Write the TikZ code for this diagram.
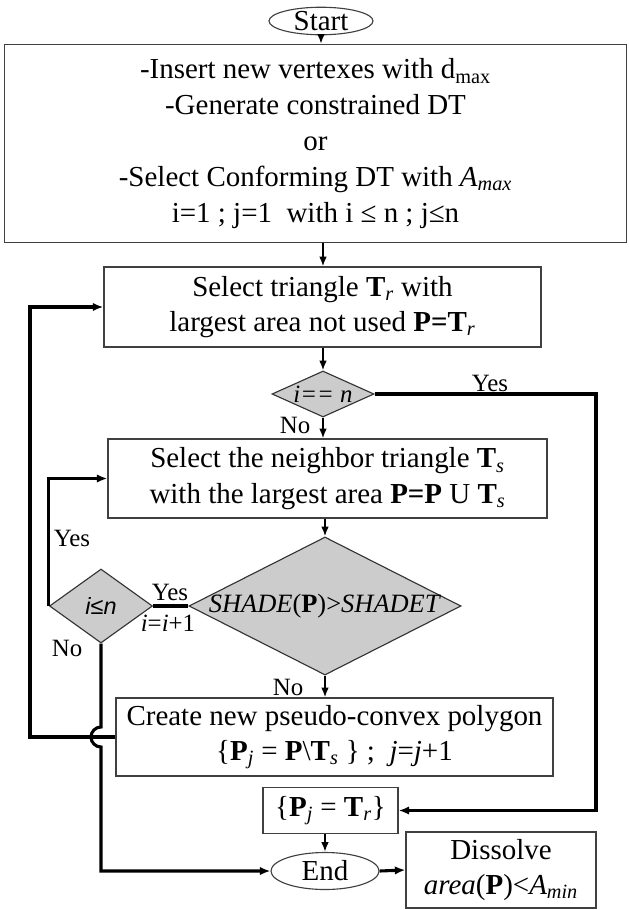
\documentclass[tikz,border=0pt]{standalone}
\usepackage{fontspec}
\setmainfont{Liberation Serif}
\newfontfamily\sansfam{Liberation Sans}
\usetikzlibrary{shapes.geometric,arrows.meta}

\begin{document}
\begin{tikzpicture}[x=0.025cm,y=-0.025cm,
  box/.style={draw=black!75,line width=0.8pt,rectangle,align=center,inner sep=0pt,
    font=\fontsize{20.6}{25}\selectfont},
  term/.style={draw=black!75,line width=0.8pt,ellipse,inner sep=0pt,
    font=\fontsize{20.6}{25}\selectfont},
  test/.style={draw=black!80,line width=0.8pt,diamond,fill=gray!40,inner sep=0pt},
  lbl/.style={inner sep=0pt,font=\fontsize{17.7}{21}\selectfont},
  flow/.style={line width=1.4pt,-{Latex[length=7pt,width=5.5pt]}},
  loop/.style={line width=2.2pt,-{Latex[length=7.5pt,width=6pt]}},
  bar/.style={line width=2.2pt}]

\useasboundingbox (0,0) rectangle (629,910);

% Start and set up
\node[term,minimum width=2.6cm,minimum height=0.675cm] (start) at (321,21) {Start};
\node[box,minimum width=15.55cm,minimum height=4.95cm,font=\fontsize{20.6}{25.5}\selectfont] (init) at (315.5,143.5)
  {-Insert new vertexes with d\textsubscript{max}\\
   -Generate constrained DT\\
   or\\
   -Select Conforming DT with \textit{A\textsubscript{max}}\\
   i=1 ; j=1~~with i ≤ n ; j≤n};

% Main loop
\node[box,minimum width=10.925cm,minimum height=2cm] (selr) at (322.5,307)
  {Select triangle \textbf{T}\textsubscript{\textit{r}} with\\
   largest area not used \textbf{P=T}\textsubscript{\textit{r}}};
\node[test,minimum width=2.55cm,minimum height=1.15cm,font=\fontsize{17.7}{21}\selectfont] (last) at (323,394)
  {\makebox[0pt]{\textit{i== n}}};
\node[box,minimum width=10.975cm,minimum height=1.975cm] (sels) at (327.5,478.5)
  {Select the neighbor triangle \textbf{T}\textsubscript{\textit{s}}\\
   with the largest area \textbf{P=P} U \textbf{T}\textsubscript{\textit{s}}};
\node[test,minimum width=6.8cm,minimum height=3.45cm,font=\fontsize{18.8}{22}\selectfont] (shade) at (325,606)
  {\makebox[0pt]{\textit{SHADE}(\textbf{P})>\textit{SHADET}}};
\node[test,minimum width=2.575cm,minimum height=1.85cm,font=\fontsize{16.7}{20}\sansfam\itshape] (count) at (101,606)
  {\makebox[0pt]{i≤n}};
\node[box,minimum width=10.925cm,minimum height=1.95cm] (poly) at (334.5,737)
  {Create new pseudo-convex polygon\\
   \{\textbf{P}\textsubscript{\textit{j}} = \textbf{P}\textbackslash\textbf{T}\textsubscript{\textit{s}} \} ;~~\textit{j}=\textit{j}+1};
\node[box,minimum width=3.375cm,minimum height=1.15cm] (keep) at (330.5,810.5)
  {\{\textbf{P}\textsubscript{\textit{j}} = \textbf{T}\textsubscript{\textit{r}}\}};

% End
\node[term,minimum width=2.7cm,minimum height=0.925cm] (end) at (325,871) {End};
\node[box,minimum width=4.75cm,minimum height=1.9cm] (dissolve) at (501,870)
  {Dissolve\\ \textit{area}(\textbf{P})<\textit{A\textsubscript{min}}};

% Labels
\node[lbl] (yes1) at (490,383) {Yes};
\node[lbl] (no1) at (295,425) {No};
\node[lbl] (yes2) at (72,538) {Yes};
\node[lbl] (yes3) at (170,592) {Yes};
\node[lbl] (inc) at (168,623) {\textit{i}=\textit{i}+1};
\node[lbl] (no2) at (67,648) {No};
\node[lbl] (no3) at (288,687) {No};

% Short arrows
\draw[flow] (start.south) -- (start.south |- init.north);
\draw[flow] (init.south -| last.north) -- (selr.north -| last.north);
\draw[flow] (selr.south -| last.north) -- (last.north);
\draw[flow] (last.south) -- (last.south |- sels.north);
\draw[flow] (sels.south -| shade.north) -- (shade.north);
\draw[flow] (shade.south) -- (shade.south |- poly.north);
\draw[flow] (keep.south -| end.north) -- (end.north);

% Loops
\coordinate (rgt) at (596,0);
\coordinate (lft) at (30,0);
\coordinate (jmp) at (count.south |- poly.west);
\draw[loop] (last.east) -| (rgt |- keep.east) -- (keep.east);
\draw[loop] (poly.west) -| (lft |- selr.west) -- (selr.west);
\draw[loop] (count.west) |- (sels.west);
\draw[bar] (count.east) -- (shade.west);
\draw[loop] (count.south) -- ([yshift=0.25cm]jmp) arc[start angle=90,end angle=270,radius=0.25cm]
  -- (count.south |- end.west) -- (end.west);
\draw[loop] (end.east) -- (dissolve.west);

\end{tikzpicture}
\end{document}
